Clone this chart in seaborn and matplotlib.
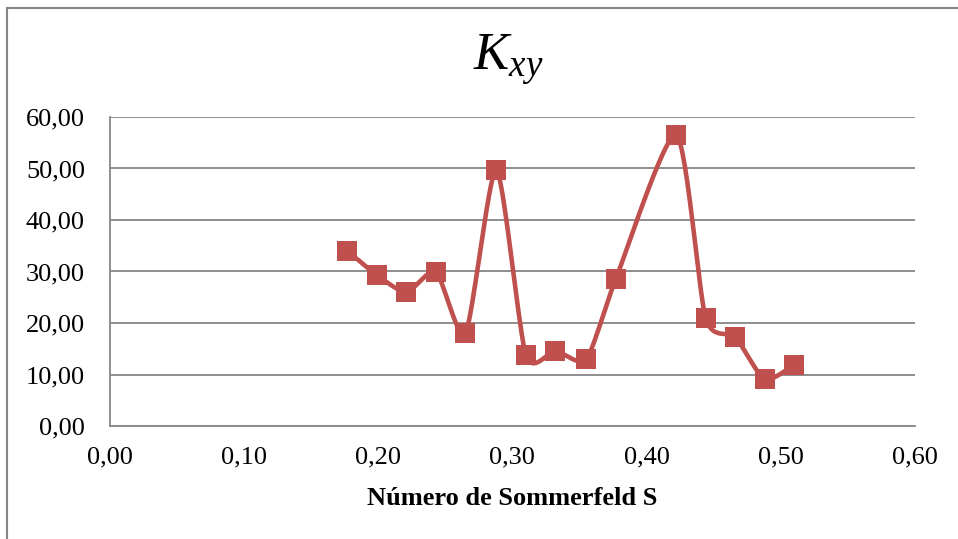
import numpy as np
import pandas as pd
import matplotlib
matplotlib.use("Agg")
import matplotlib.pyplot as plt
import seaborn as sns
from matplotlib.patches import Rectangle

# Data
sommerfeld = [0.177, 0.199, 0.221, 0.243, 0.265, 0.288, 0.310, 0.332, 0.355,
              0.377, 0.422, 0.444, 0.466, 0.488, 0.510]
kxy = [34.0, 29.3, 26.0, 29.9, 18.0, 49.7, 13.8, 14.6, 13.0,
       28.5, 56.5, 21.0, 17.3, 9.1, 11.9]
xticks = [0.0, 0.1, 0.2, 0.3, 0.4, 0.5, 0.6]
yticks = [0, 10, 20, 30, 40, 50, 60]

df = pd.DataFrame({"S": sommerfeld, "Kxy": kxy})

sns.set_theme(style="white")
plt.rcParams['font.family'] = ['Liberation Serif', 'DejaVu Serif']
plt.rcParams['mathtext.fontset'] = 'custom'
plt.rcParams['mathtext.it'] = 'Liberation Serif:italic'
plt.rcParams['mathtext.rm'] = 'Liberation Serif'

color = "#C0504D"

fig = plt.figure(figsize=(9.58, 5.39), dpi=100)
ax = fig.add_axes([0.1148, 0.2096, 0.8402, 0.5734])

# Smoothed curve (cardinal spline, like Excel's smoothed line)
def smooth(xs, ys, n=30, tension=0.5):
    xs = np.asarray(xs, float); ys = np.asarray(ys, float)
    P = np.column_stack([xs, ys])
    out = []
    for i in range(len(P) - 1):
        p0 = P[i - 1] if i > 0 else P[i]
        p1 = P[i]; p2 = P[i + 1]
        p3 = P[i + 2] if i + 2 < len(P) else P[i + 1]
        c1 = p1 + (p2 - p0) * tension / 3
        c2 = p2 - (p3 - p1) * tension / 3
        t = np.linspace(0, 1, n)[:, None]
        seg = ((1 - t) ** 3) * p1 + 3 * ((1 - t) ** 2) * t * c1 + 3 * (1 - t) * t ** 2 * c2 + t ** 3 * p2
        out.append(seg if i == 0 else seg[1:])
    return np.vstack(out)

curve = smooth(df["S"], df["Kxy"], tension=0.35)
sm = pd.DataFrame({"S": curve[:, 0], "Kxy": curve[:, 1]})
sns.lineplot(data=sm, x="S", y="Kxy", sort=False, color=color, linewidth=3.3, ax=ax, zorder=3)
sns.scatterplot(data=df, x="S", y="Kxy", marker="s", s=220, color=color, edgecolor=color, linewidth=0, ax=ax, zorder=4)

ax.set_xlim(0, 0.6)
ax.set_ylim(0, 60)
ax.set_xticks(xticks)
ax.set_yticks(yticks)
ax.set_xticklabels([f"{v:.2f}".replace(".", ",") for v in xticks], fontsize=19)
ax.set_yticklabels([f"{v:.2f}".replace(".", ",") for v in yticks], fontsize=19)
ax.tick_params(axis="x", length=0, pad=15, colors="black")
ax.tick_params(axis="y", length=0, pad=18, colors="black")
ax.yaxis.grid(True, color="#868686", linewidth=1.3)
ax.xaxis.grid(False)
for s in ["top", "right"]:
    ax.spines[s].set_visible(False)
for s in ["left", "bottom"]:
    ax.spines[s].set_color("#868686")
    ax.spines[s].set_linewidth(1.3)
ax.set_ylabel("")
ax.set_xlabel("Número de Sommerfeld S", fontsize=19, fontweight="bold", labelpad=13, color="black")

fig.text(0.531, 0.89, r"$K_{xy}$", fontsize=38, ha="center", va="center", color="black")

fig.patches.append(Rectangle((7 / 958, -0.05), 1.1, (1 - 8 / 539) + 0.05,
                             transform=fig.transFigure, fill=False,
                             edgecolor="#868686", linewidth=1.5, zorder=0))

fig.savefig("out.png", dpi=100, facecolor="white")
